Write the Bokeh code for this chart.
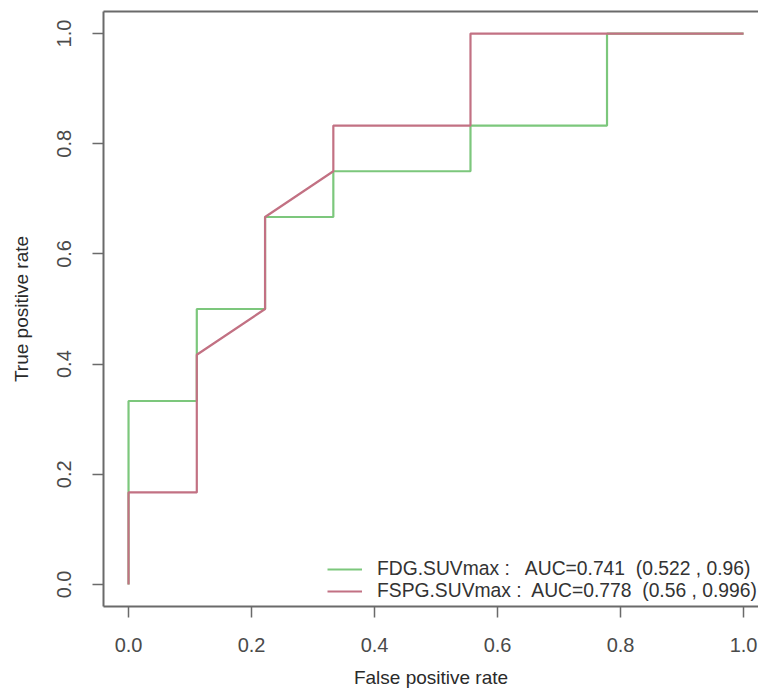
from bokeh.plotting import figure
from bokeh.models import Range1d, LinearAxis, FixedTicker, Legend, LegendItem
from bokeh.embed import file_html
from bokeh.resources import INLINE

# ROC curve data
fdg_fpr = [0.0, 0.0, 0.111, 0.111, 0.222, 0.222, 0.333, 0.333, 0.556, 0.556, 0.778, 0.778, 1.0]
fdg_tpr = [0.0, 0.333, 0.333, 0.5, 0.5, 0.667, 0.667, 0.75, 0.75, 0.833, 0.833, 1.0, 1.0]
fspg_fpr = [0.0, 0.0, 0.111, 0.111, 0.222, 0.222, 0.333, 0.333, 0.556, 0.556, 1.0]
fspg_tpr = [0.0, 0.167, 0.167, 0.417, 0.5, 0.667, 0.75, 0.833, 0.833, 1.0, 1.0]
legend_labels = ["FDG.SUVmax :   AUC=0.741  (0.522 , 0.96)",
                 "FSPG.SUVmax :  AUC=0.778  (0.56 , 0.996)"]
ticks = [0.0, 0.2, 0.4, 0.6, 0.8, 1.0]
tick_labels = {0.0: "0.0", 0.2: "0.2", 0.4: "0.4", 0.6: "0.6", 0.8: "0.8", 1.0: "1.0"}

GREEN = "#7cc77c"
RED = "#c27183"
AXIS = "#6a6a6a"
TEXT = "#4a4a4a"
FONT = "Liberation Sans"

p = figure(width=758, height=692, output_backend="svg", toolbar_location=None,
           x_range=Range1d(-0.0407, 1.0243), y_range=Range1d(-0.04, 1.04),
           x_axis_location=None, y_axis_location=None,
           min_border_left=103, min_border_top=11, min_border_right=0, min_border_bottom=86)
p.grid.visible = False
p.outline_line_color = None
p.background_fill_color = "white"
p.border_fill_color = "white"

def style(ax):
    ax.ticker = FixedTicker(ticks=ticks)
    ax.major_label_overrides = tick_labels
    ax.axis_line_color = AXIS
    ax.axis_line_width = 2
    ax.major_tick_line_color = AXIS
    ax.major_tick_line_width = 1.5
    ax.major_tick_in = 0
    ax.major_tick_out = 11
    ax.minor_tick_line_color = None
    ax.major_label_text_font = FONT
    ax.major_label_text_font_size = "20px"
    ax.major_label_text_color = TEXT
    ax.axis_label_text_font = FONT
    ax.axis_label_text_font_size = "19px"
    ax.axis_label_text_font_style = "normal"
    ax.axis_label_text_color = "#2a2a2a"

xa = LinearAxis(axis_label="False positive rate")
style(xa)
xa.major_label_standoff = 20
xa.axis_label_standoff = 12
p.add_layout(xa, "below")

ya = LinearAxis(axis_label="True positive rate")
style(ya)
ya.major_label_orientation = "vertical"
ya.major_label_standoff = 21
ya.axis_label_standoff = 23
p.add_layout(ya, "left")

top = LinearAxis()
top.ticker = FixedTicker(ticks=[])
top.major_label_text_font_size = "0px"
top.axis_line_color = AXIS
top.axis_line_width = 2
top.major_tick_line_color = None
top.minor_tick_line_color = None
p.add_layout(top, "above")

r1 = p.line(fdg_fpr, fdg_tpr, line_color=GREEN, line_width=2.2)
r2 = p.line(fspg_fpr, fspg_tpr, line_color=RED, line_width=2.2)

leg = Legend(items=[LegendItem(label=legend_labels[0], renderers=[r1]),
                    LegendItem(label=legend_labels[1], renderers=[r2])],
             location=(224, 4), orientation="vertical",
             background_fill_alpha=0, border_line_color=None,
             padding=0, margin=0, spacing=-4,
             glyph_width=35, glyph_height=20, label_height=20,
             label_standoff=15,
             label_text_font=FONT, label_text_font_size="19.3px",
             label_text_color="#333333")
p.add_layout(leg, "center")

open("out.html", "w").write(file_html(p, INLINE))
